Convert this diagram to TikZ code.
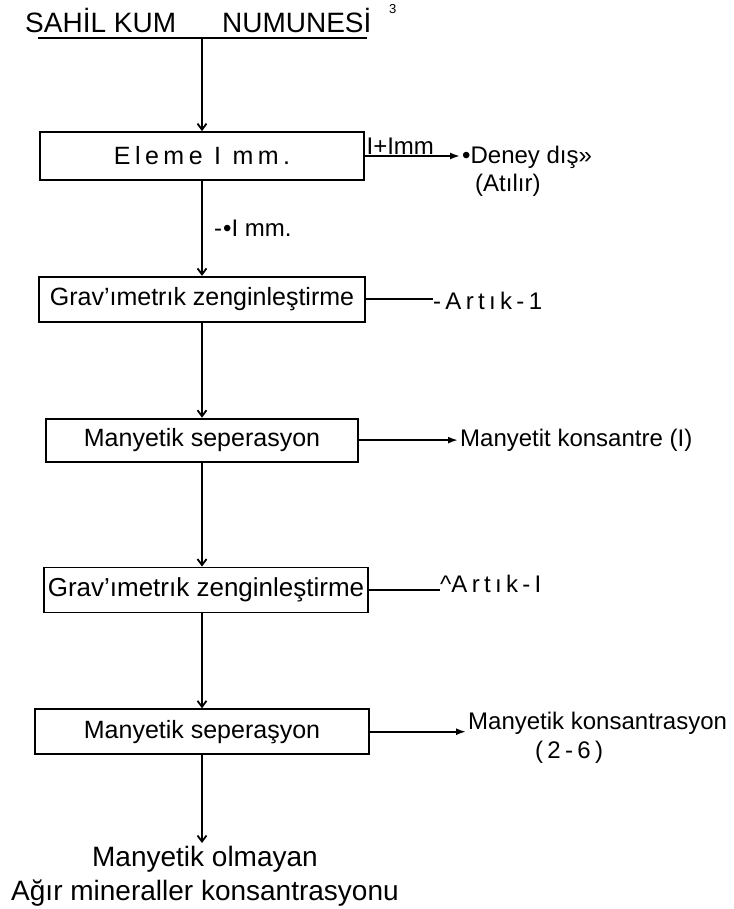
\documentclass[tikz,border=0pt]{standalone}
\usepackage{fontspec}
\setmainfont{Liberation Sans}
\newfontfamily\aralikli[LetterSpace=18]{Liberation Sans}
\usetikzlibrary{
	arrows.meta,
	positioning
}

\begin{document}
\begin{tikzpicture}[
			x=1bp, y=-1bp,
			kutu/.style={
					draw,
					line width=1.8bp,
					minimum height=45bp,
					inner sep=0pt,
					align=center,
					font=\fontsize{25bp}{30bp}\selectfont
				},
			yan/.style={
					inner sep=0pt,
					font=\fontsize{24bp}{29bp}\selectfont
				},
			cizgi/.style={line width=1.8bp},
			okyatay/.style={cizgi, -{Latex[length=10bp,width=7bp]}, shorten >=2bp},
			okdikey/.style={cizgi, -{Straight Barb[length=6bp,width=9bp]}}
		]
		\useasboundingbox (0,0) rectangle (734,909);

		% baslik
		\node[anchor=base west, inner sep=0pt, font=\fontsize{28bp}{32bp}\selectfont] (baslik) at (25,32) {SAHİL KUM\hspace{46bp}NUMUNESİ};
		\node[anchor=base west, inner sep=0pt, font=\fontsize{13bp}{15bp}\selectfont] (ust) at (389,13) {3};
		\draw[cizgi, line width=2.4bp] (38,38) -- (367,38);
		\coordinate (alt) at (202,38);

		% kutular
		\node[kutu, minimum width=324bp, minimum height=48bp] (k1) at (202,156) {\aralikli Eleme I mm.};
		\node[kutu, minimum width=326bp, below=95bp of k1] (k2) {Grav'ımetrık zenginleştirme};
		\node[kutu, minimum width=312bp, minimum height=43bp, below=95bp of k2] (k3) {Manyetik seperasyon};
		\node[kutu, minimum width=324bp, below=104bp of k3, xshift=4bp, font=\fontsize{26bp}{30bp}\selectfont] (k4) {Grav'ımetrık zenginleştirme};
		\node[kutu, minimum width=334bp, below=95bp of k4, xshift=-4bp] (k5) {Manyetik seperaşyon};

		% yan cikislar
		\node[yan, anchor=west] (d1) at (462,157) {•Deney dış»};
		\node[yan, anchor=north west] (d2) at (475,174) {(Atılır)};
		\node[yan, anchor=south west, inner sep=1.5bp] (l1) at (k1.east) {I+Imm};
		\node[yan, anchor=west] (l2) at (214,228) {-\kern1bp•I mm.};
		\node[yan, anchor=west] (r1) at (433,301) {\aralikli -Artık-1};
		\node[yan, anchor=west] (r2) at (460,440) {Manyetit konsantre (I)};
		\node[yan, anchor=west] (r3) at (440,584) {\textasciicircum\aralikli Artık-I};
		\node[yan, anchor=west] (r4) at (468,723) {Manyetik konsantrasyon};
		\node[yan, anchor=north west] (r5) at (535,741) {\aralikli (2-6)};

		% son urun
		\node[anchor=north, inner sep=0pt, align=center, font=\fontsize{28bp}{34bp}\selectfont] (son) at (205,846) {Manyetik olmayan\\ Ağır mineraller konsantrasyonu};

		% akis
		\draw[okdikey] (alt) -- (k1.north);
		\draw[okdikey] (k1.south) -- (k1.south |- k2.north);
		\draw[okdikey] (k2.south) -- (k2.south |- k3.north);
		\draw[okdikey] (k3.south) -- (k3.south |- k4.north);
		\draw[okdikey] (k4.south -| k3.south) -- (k3.south |- k5.north);
		\draw[okdikey, shorten >=3bp] (k5.south) -- (k5.south |- son.north);

		\draw[okyatay] (k1.east) -- (k1.east -| d1.west);
		\draw[cizgi] (k2.east) -- (k2.east -| r1.west);
		\draw[okyatay] (k3.east) -- (k3.east -| r2.west);
		\draw[cizgi] (k4.east) -- (k4.east -| r3.west);
		\draw[okyatay] (k5.east) -- (k5.east -| r4.west);
	\end{tikzpicture}
\end{document}
